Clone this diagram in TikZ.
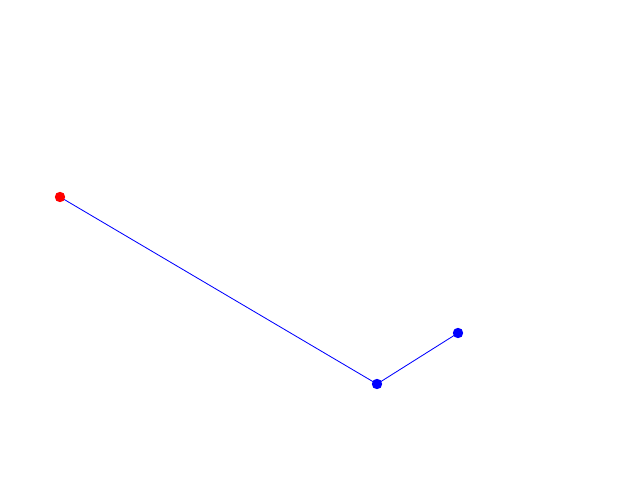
\documentclass[tikz,border=0pt]{standalone}
\usetikzlibrary{backgrounds}
\begin{document}
\begin{tikzpicture}[x=0.025cm,y=-0.025cm,
  reddot/.style={circle,fill=red,inner sep=0pt,minimum size=0.26cm},
  bluedot/.style={circle,fill=blue,inner sep=0pt,minimum size=0.26cm},
  link/.style={draw=blue,line width=0.6pt}]
\useasboundingbox (0,0) rectangle (640,480);
\node[reddot] (a) at (60,197) {};
\node[bluedot] (b) at (377,384) {};
\node[bluedot] (c) at (458,333) {};
\begin{pgfonlayer}{background}
\draw[link] (a.center) -- (b.center) -- (c.center);
\end{pgfonlayer}
\end{tikzpicture}
\end{document}
